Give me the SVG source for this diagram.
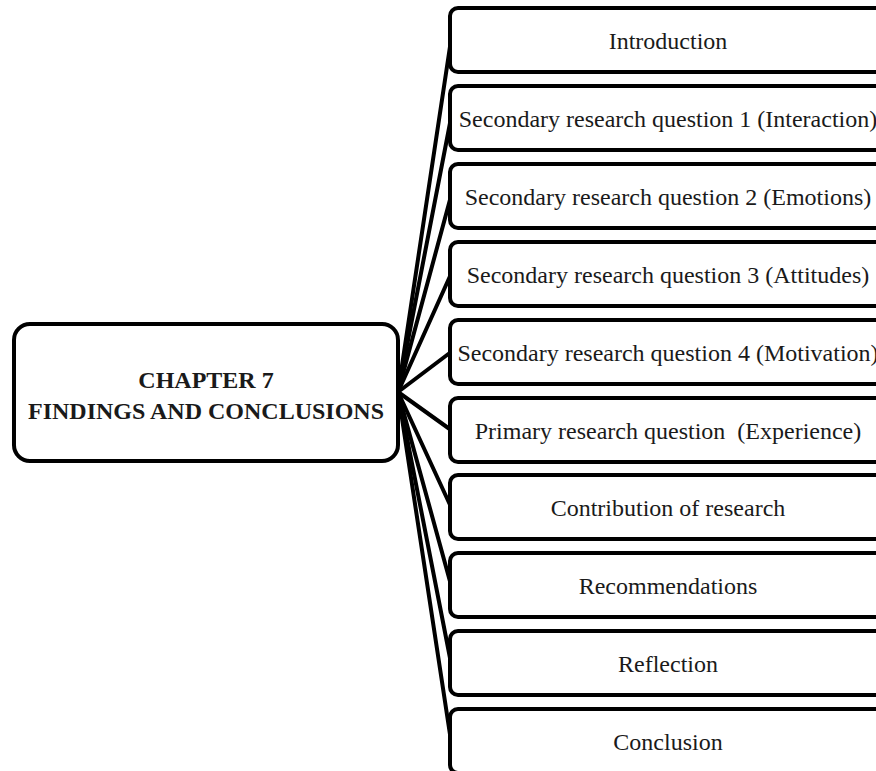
<svg xmlns="http://www.w3.org/2000/svg" width="876" height="771" viewBox="0 0 876 771">
  <style>
    .box { fill: #ffffff; stroke: #000000; stroke-width: 4; }
    .link { stroke: #000000; stroke-width: 4; fill: none; stroke-linecap: round; }
    .lbl { font-family: "Liberation Serif", "Times New Roman", serif; font-size: 24px; fill: #1a1a1a; text-anchor: middle; }
    .hub { font-family: "Liberation Serif", "Times New Roman", serif; font-size: 24px; font-weight: bold; fill: #1a1a1a; text-anchor: middle; }
  </style>
  <rect width="876" height="771" fill="#ffffff"/>

  <!-- connectors from the chapter hub to each section -->
  <g id="connectors">
    <line class="link" x1="398" y1="392" x2="451" y2="40"/>
    <line class="link" x1="398" y1="392" x2="451" y2="118"/>
    <line class="link" x1="398" y1="392" x2="451" y2="196"/>
    <line class="link" x1="398" y1="392" x2="451" y2="274"/>
    <line class="link" x1="398" y1="392" x2="451" y2="352"/>
    <line class="link" x1="398" y1="392" x2="451" y2="430"/>
    <line class="link" x1="398" y1="392" x2="451" y2="507"/>
    <line class="link" x1="398" y1="392" x2="451" y2="585"/>
    <line class="link" x1="398" y1="392" x2="451" y2="663"/>
    <line class="link" x1="398" y1="392" x2="451" y2="741"/>
  </g>

  <g id="hub">
    <rect class="box" x="14" y="324" width="384" height="137" rx="16"/>
    <text class="hub" x="206" y="388">CHAPTER 7</text>
    <text class="hub" x="206" y="419">FINDINGS AND CONCLUSIONS</text>
  </g>

  <g id="n1">
    <rect class="box" x="450" y="8" width="440" height="64" rx="8"/>
    <text class="lbl" x="668" y="49">Introduction</text>
  </g>
  <g id="n2">
    <rect class="box" x="450" y="86" width="440" height="64" rx="8"/>
    <text class="lbl" x="668" y="127">Secondary research question 1 (Interaction)</text>
  </g>
  <g id="n3">
    <rect class="box" x="450" y="164" width="440" height="64" rx="8"/>
    <text class="lbl" x="668" y="205">Secondary research question 2 (Emotions)</text>
  </g>
  <g id="n4">
    <rect class="box" x="450" y="242" width="440" height="64" rx="8"/>
    <text class="lbl" x="668" y="283">Secondary research question 3 (Attitudes)</text>
  </g>
  <g id="n5">
    <rect class="box" x="450" y="320" width="440" height="64" rx="8"/>
    <text class="lbl" x="668" y="361">Secondary research question 4 (Motivation)</text>
  </g>
  <g id="n6">
    <rect class="box" x="450" y="398" width="440" height="64" rx="8"/>
    <text class="lbl" x="668" y="439" xml:space="preserve">Primary research question  (Experience)</text>
  </g>
  <g id="n7">
    <rect class="box" x="450" y="475" width="440" height="64" rx="8"/>
    <text class="lbl" x="668" y="516">Contribution of research</text>
  </g>
  <g id="n8">
    <rect class="box" x="450" y="553" width="440" height="64" rx="8"/>
    <text class="lbl" x="668" y="594">Recommendations</text>
  </g>
  <g id="n9">
    <rect class="box" x="450" y="631" width="440" height="64" rx="8"/>
    <text class="lbl" x="668" y="672">Reflection</text>
  </g>
  <g id="n10">
    <rect class="box" x="450" y="709" width="440" height="64" rx="8"/>
    <text class="lbl" x="668" y="750">Conclusion</text>
  </g>
</svg>
